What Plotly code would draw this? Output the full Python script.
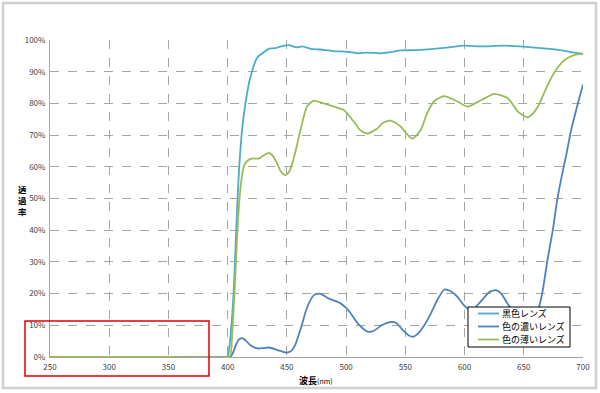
import plotly.graph_objects as go

# ---- data ----
series_names = ["黒色レンズ", "色の濃いレンズ", "色の薄いレンズ"]

wl_black = [250, 300, 350, 398, 400, 402, 404, 405.5, 407, 409, 412, 415, 419, 425, 430, 435, 440,
            445, 452, 456, 459, 463, 470, 478, 489, 501, 510, 518, 529, 540, 546, 560, 574, 587,
            599, 615, 631, 650, 665, 681, 690, 700]
tr_black = [0, 0, 0, 0, 0.3, 5, 14, 24, 38, 55, 71, 80, 88, 94.5, 96, 97.3, 97.4,
            98, 98.4, 97.8, 97.7, 98, 97.2, 97, 96.5, 96.3, 95.8, 96, 95.8, 96.3, 96.7, 96.8, 97.2, 97.7,
            98.2, 98, 98.2, 97.9, 97.4, 96.8, 96.2, 95.6]

wl_dark = [250, 300, 350, 400, 403, 405, 407, 409, 411, 413, 415, 419, 425, 430, 435, 442, 449, 453,
           457, 460, 463, 466, 469, 473, 478, 485, 490, 495, 500, 504, 510, 518, 523, 530, 537, 542,
           548, 553, 557, 561, 566, 571.5, 577, 583, 588, 594, 599, 603, 607, 611, 616, 621, 626.5,
           631, 636, 640, 645, 650, 655, 660, 663, 666, 670, 674.5, 678, 682, 686, 690, 695, 700]
tr_dark = [0, 0, 0, 0, 0.3, 1.8, 3.8, 5.3, 5.9, 5.8, 5.3, 3.8, 2.7, 2.8, 3.0, 2.2, 1.4, 1.7,
           3.8, 7, 10.6, 14.5, 17.3, 19.6, 20, 18.5, 17.8, 17, 15.5, 13.7, 10.5, 8, 8.2, 10, 11, 10.8,
           8.5, 6.8, 6.4, 7.5, 10, 13.7, 18, 21.3, 20.8, 19, 16.5, 15.2, 14.8, 16.4, 18.5, 20.5, 21.1,
           20, 17, 14.8, 12, 10.5, 10.5, 12.5, 15.9, 21, 30.6, 40, 49, 57, 64, 71.6, 79, 86]

wl_light = [250, 300, 350, 399, 402, 404, 406, 408, 410, 412, 414, 417, 420, 426, 430, 434.7, 438,
            441.8, 445, 448.8, 452, 454.5, 458, 461.5, 467, 472.8, 481, 489.7, 498, 506.6, 512, 518,
            526.4, 531, 537.6, 546, 551, 556, 563, 568, 574, 582.7, 594, 602.5, 614, 625, 636.6, 645,
            653, 657, 662, 668, 673, 678, 684.5, 693, 700]
tr_light = [0, 0, 0, 0, 0.3, 8, 22, 38, 50, 57, 60.5, 62, 62.6, 62.6, 63.5, 64.4, 63.5,
            61, 58.5, 57.4, 58.5, 61, 66, 71.6, 79, 80.9, 80, 79, 77.9, 74.2, 71.5, 70.5,
            72.1, 73.8, 74.6, 72.7, 70.5, 68.9, 71.6, 76.5, 80.6, 82.3, 80.6, 79, 81, 83, 81.6, 77.4,
            75.6, 76.5, 79, 84, 87.9, 91, 93.7, 95.3, 95.6]

x_ticks = [250, 300, 350, 400, 450, 500, 550, 600, 650, 700]
y_ticks = [0, 10, 20, 30, 40, 50, 60, 70, 80, 90, 100]
y_title_chars = ["透", "過", "率"]

colors = ["#4BACC6", "#4F81BD", "#9BBB59"]
FONT = "Noto Sans CJK JP"

# plot-area geometry in pixels (for converting decoration positions to paper coords)
L, R, T, B = 50, 583, 40, 357
W, H = R - L, B - T
px = lambda x: (x - L) / W
py = lambda y: (B - y) / H

fig = go.Figure()
for name, xs, ys, c in zip(series_names, [wl_black, wl_dark, wl_light],
                           [tr_black, tr_dark, tr_light], colors):
    fig.add_trace(go.Scatter(x=xs, y=ys, name=name, mode="lines", showlegend=False,
                             line=dict(color=c, width=1.8, shape="spline", smoothing=0.6)))

grid = dict(showgrid=True, gridcolor="#A6A6A6", gridwidth=1, griddash="dash",
            showline=True, linecolor="#A6A6A6", linewidth=1, zeroline=False,
            ticks="", tickfont=dict(family=FONT, size=8, color="#404040"))

fig.update_xaxes(range=[250, 700], tickvals=x_ticks, ticklabelstandoff=2, **grid)
fig.update_yaxes(range=[0, 100], tickvals=y_ticks, ticktext=[f"{v}%" for v in y_ticks],
                 ticklabelstandoff=2, **grid)

fig.update_layout(
    width=600, height=393,
    margin=dict(l=L, r=600 - R, t=T, b=393 - B, autoexpand=False),
    paper_bgcolor="white", plot_bgcolor="white",
    font=dict(family=FONT, size=8, color="#404040"),
    showlegend=False,
)

# outer chart border
fig.add_shape(type="rect", xref="paper", yref="paper",
              x0=px(3), x1=px(596), y0=py(3), y1=py(388),
              line=dict(color="#D0D0D0", width=2.5), layer="below")
# red highlight rectangle
fig.add_shape(type="rect", xref="paper", yref="paper",
              x0=px(25), x1=px(209), y0=py(376), y1=py(321),
              line=dict(color="#E00000", width=1.5))

# legend box (compact, drawn over the plot)
lx0, lx1, ly0, ly1 = 468, 570, 307, 347
fig.add_shape(type="rect", xref="paper", yref="paper",
              x0=px(lx0), x1=px(lx1), y0=py(ly1), y1=py(ly0),
              line=dict(color="#000000", width=1), fillcolor="white", layer="above")
row_y = [313.5, 326.5, 339.5]
for name, c, ry in zip(series_names, colors, row_y):
    fig.add_shape(type="line", xref="paper", yref="paper",
                  x0=px(478), x1=px(499), y0=py(ry), y1=py(ry),
                  line=dict(color=c, width=1.8), layer="above")
    fig.add_annotation(text=name, xref="paper", yref="paper", x=px(500), y=py(ry),
                       xanchor="left", yanchor="middle", showarrow=False,
                       font=dict(family=FONT, size=9, color="#000000"))

# axis titles
fig.add_annotation(text="<br>".join(f"<b>{ch}</b>" for ch in y_title_chars),
                   xref="paper", yref="paper", x=px(17), y=py(199.5),
                   showarrow=False, yanchor="middle", align="center", borderpad=0,
                   font=dict(family=FONT, size=8.5, color="#000000"))
fig.add_annotation(text="<b>波長</b><span style='font-size:7px'>(nm)</span>",
                   xref="paper", yref="paper",
                   x=px(316), y=py(380), showarrow=False, yanchor="middle",
                   font=dict(family=FONT, size=9, color="#000000"))

fig.write_html("out.html", config={"displayModeBar": False},
               post_script="document.body.style.margin='0';document.body.style.overflow='hidden';")
